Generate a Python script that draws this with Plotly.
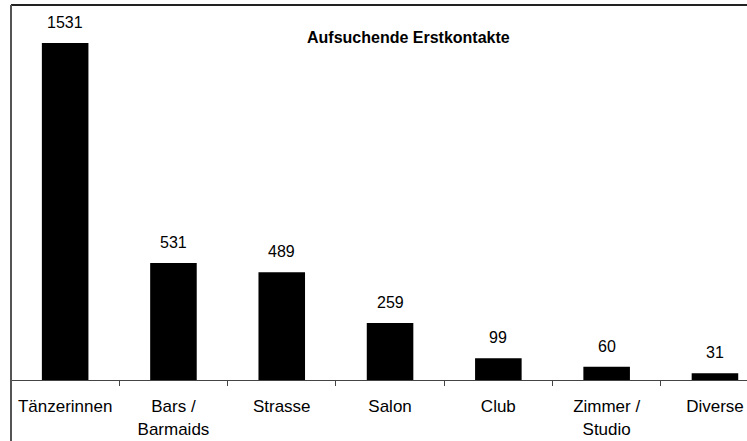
import plotly.graph_objects as go

categories = ["Tänzerinnen", "Bars /<br>Barmaids", "Strasse", "Salon", "Club", "Zimmer /<br>Studio", "Diverse"]
values = [1531, 531, 489, 259, 99, 60, 31]
title_text = "Aufsuchende Erstkontakte"

W, H = 747, 441
ml, mt, mb = 11, 5, 61
plot_h = H - mt - mb
px_per_cat = 108.3
x_max = -0.5 + (W - ml) / px_per_cat
y_max = 1531 * plot_h / 337.0

fig = go.Figure()
fig.add_trace(go.Bar(
    x=categories, y=values,
    marker=dict(color="black", line=dict(width=0)),
    width=0.43,
    hoverinfo="skip",
))

for cat, v in zip(categories, values):
    fig.add_annotation(x=cat, y=v, text=str(v), showarrow=False,
                       yanchor="bottom", yshift=10,
                       font=dict(family="Liberation Sans, Arial", size=16, color="black"))

fig.add_annotation(x=(408 - ml) / (W - ml), y=(H - mb - 37) / plot_h,
                   xref="paper", yref="paper", text="<b>" + title_text + "</b>",
                   showarrow=False, xanchor="center", yanchor="middle",
                   font=dict(family="Liberation Sans, Arial", size=16, color="black"))

# chart frame (partly cropped)
fig.add_shape(type="line", xref="paper", yref="paper", x0=0, x1=1, y0=1, y1=1,
              line=dict(color="#222", width=2))
fig.add_shape(type="line", xref="paper", yref="paper", x0=0, x1=0, y0=1, y1=-0.2,
              line=dict(color="#555", width=2))

fig.update_layout(
    width=W, height=H,
    margin=dict(l=ml, r=0, t=mt, b=mb, pad=0, autoexpand=False),
    paper_bgcolor="white", plot_bgcolor="rgba(0,0,0,0)",
    showlegend=False,
    font=dict(family="Liberation Sans, Arial", size=17, color="black"),
    xaxis=dict(
        type="category",
        range=[-0.5, x_max],
        showline=True, linecolor="#444", linewidth=1,
        ticks="outside", ticklen=5, tickcolor="#444", tickson="boundaries",
        ticklabelstandoff=11,
        showgrid=False, zeroline=False,
        tickfont=dict(size=17, color="black"),
        fixedrange=True,
    ),
    yaxis=dict(range=[0, y_max], visible=False, showgrid=False, zeroline=False),
)

fig.write_html("out.html", config={"displayModeBar": False},
               post_script="document.documentElement.style.overflow='hidden';document.body.style.margin='0';document.body.style.overflow='hidden';")
